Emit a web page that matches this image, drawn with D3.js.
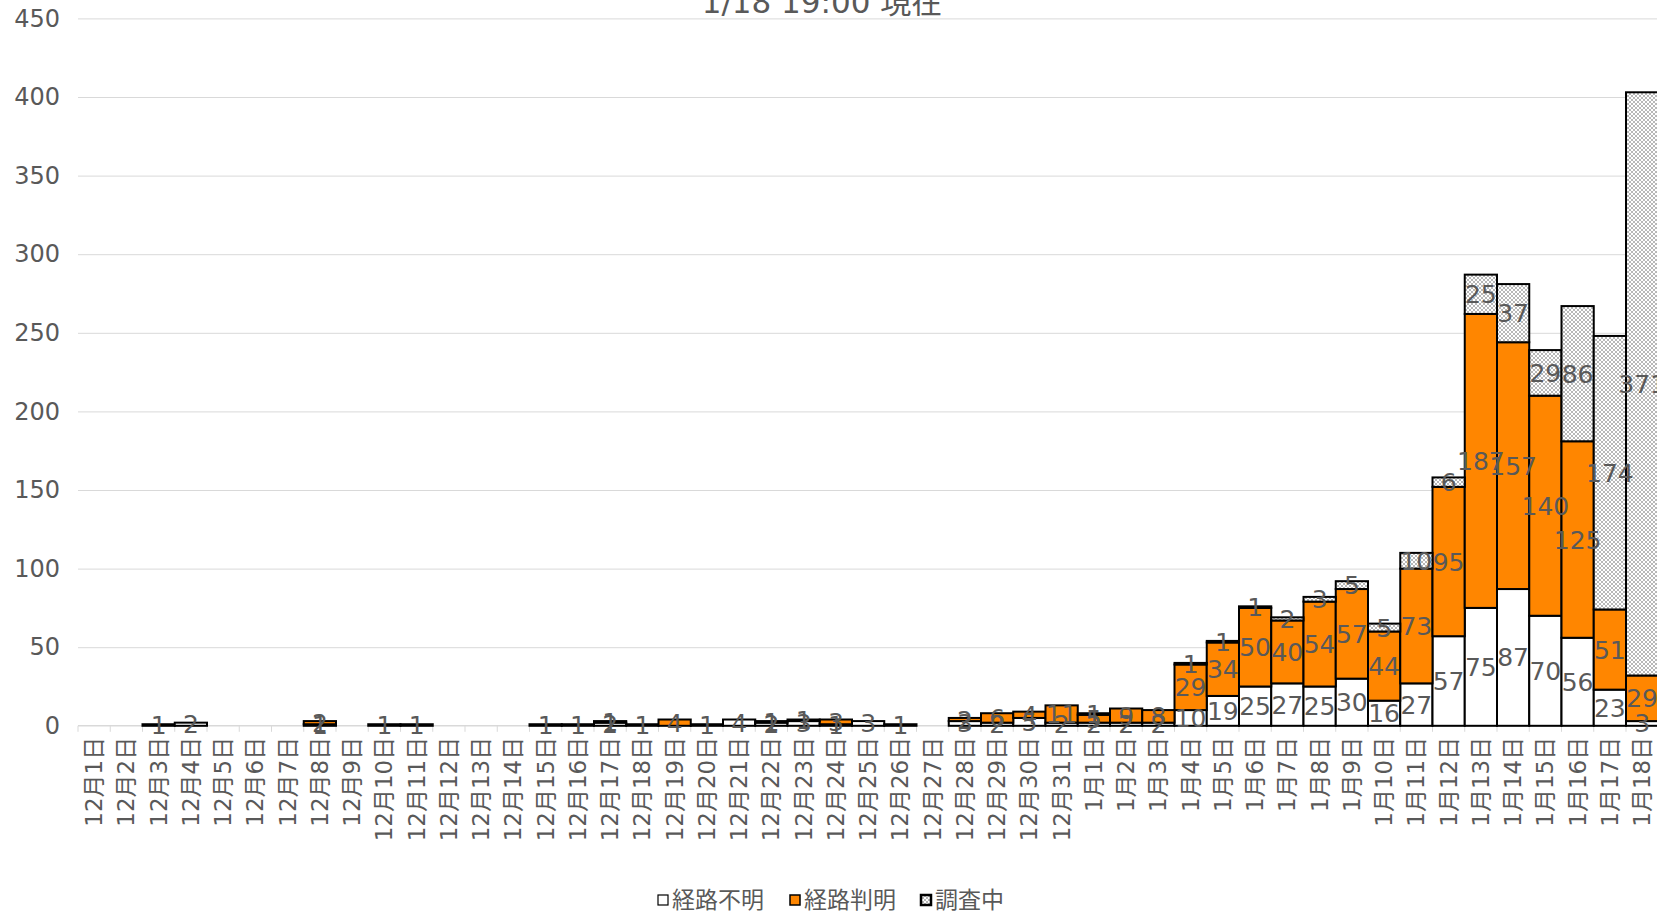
<!DOCTYPE html>
<html>
<head>
<meta charset="utf-8">
<script src="https://cdn.jsdelivr.net/npm/d3@7"></script>
<style>
  html, body { margin: 0; padding: 0; background: #fff; }
  svg { display: block; }
</style>
</head>
<body>
<svg id="chart" width="1657" height="916"></svg>
<script>
const titleText = "1/18 19:00 現在";
const categories = [
  "12月1日","12月2日","12月3日","12月4日","12月5日","12月6日","12月7日","12月8日","12月9日","12月10日",
  "12月11日","12月12日","12月13日","12月14日","12月15日","12月16日","12月17日","12月18日","12月19日","12月20日",
  "12月21日","12月22日","12月23日","12月24日","12月25日","12月26日","12月27日","12月28日","12月29日","12月30日",
  "12月31日","1月1日","1月2日","1月3日","1月4日","1月5日","1月6日","1月7日","1月8日","1月9日",
  "1月10日","1月11日","1月12日","1月13日","1月14日","1月15日","1月16日","1月17日","1月18日"
];
const seriesNames = ["経路不明", "経路判明", "調査中"];
// 経路不明
const routeUnknown = [
  0,0,1,2,0,0,0,1,0,1,
  1,0,0,0,1,1,2,1,0,1,
  4,2,3,1,3,1,0,3,2,5,
  2,2,2,2,10,19,25,27,25,30,
  16,27,57,75,87,70,56,23,3
];
// 経路判明
const routeKnown = [
  0,0,0,0,0,0,0,2,0,0,
  0,0,0,0,0,0,0,0,4,0,
  0,0,0,3,0,0,0,2,6,4,
  11,5,9,8,29,34,50,40,54,57,
  44,73,95,187,157,140,125,51,29
];
// 調査中
const underInvestigation = [
  0,0,0,0,0,0,0,0,0,0,
  0,0,0,0,0,0,1,0,0,0,
  0,1,1,0,0,0,0,0,0,0,
  0,1,0,0,1,1,1,2,3,5,
  5,10,6,25,37,29,86,174,371
];
const yTicks = [0,50,100,150,200,250,300,350,400,450];

const W = 1657, H = 916;
const plot = { left: 78, right: 1658.25, top: 18.4, bottom: 725.8 };
const numFont = "'DejaVu Sans', 'Noto Sans CJK JP', sans-serif";
const cjkFont = "'Noto Sans CJK JP', sans-serif";
const textColor = "#595959";
const orange = "#FF8600";

const svg = d3.select("#chart");

// pattern for 調査中
const defs = svg.append("defs");
const pat = defs.append("pattern")
  .attr("id", "hatch").attr("patternUnits", "userSpaceOnUse")
  .attr("width", 4).attr("height", 4);
pat.append("rect").attr("width", 4).attr("height", 4).attr("fill", "#ffffff");
pat.append("path").attr("d", "M0,0 L4,4 M4,0 L0,4")
  .attr("stroke", "#9a9a9a").attr("stroke-width", 0.7).attr("fill", "none");

const rows = categories.map((c, i) => ({
  cat: c,
  "経路不明": routeUnknown[i],
  "経路判明": routeKnown[i],
  "調査中": underInvestigation[i]
}));

const x = d3.scaleBand().domain(categories).range([plot.left, plot.right]).padding(0);
const y = d3.scaleLinear().domain([0, 450]).range([plot.bottom, plot.top]);

// gridlines
svg.append("g")
  .attr("transform", `translate(${plot.left},0)`)
  .call(d3.axisLeft(y).tickValues(yTicks.filter(t => t > 0)).tickSize(-(plot.right - plot.left)).tickFormat(""))
  .call(g => g.select(".domain").remove())
  .call(g => g.selectAll("line").attr("stroke", "#d9d9d9").attr("stroke-width", 1));

// y axis labels
svg.append("g")
  .attr("transform", `translate(60,0)`)
  .call(d3.axisLeft(y).tickValues(yTicks).tickSize(0).tickPadding(0))
  .call(g => g.select(".domain").remove())
  .call(g => g.selectAll("text")
    .attr("fill", textColor)
    .style("font-family", numFont)
    .style("font-size", "24px"));

// x axis line + boundary ticks
svg.append("line")
  .attr("x1", plot.left).attr("x2", plot.right)
  .attr("y1", y(0)).attr("y2", y(0))
  .attr("stroke", "#d9d9d9").attr("stroke-width", 1.5);
svg.append("g").selectAll("line")
  .data(categories)
  .join("line")
  .attr("x1", d => x(d)).attr("x2", d => x(d))
  .attr("y1", y(0)).attr("y2", y(0) + 6)
  .attr("stroke", "#d9d9d9").attr("stroke-width", 1);

// x labels
svg.append("g")
  .attr("transform", `translate(0,${y(0)})`)
  .call(d3.axisBottom(x).tickSize(0).tickPadding(0))
  .call(g => g.select(".domain").remove())
  .call(g => g.selectAll(".tick text")
    .attr("transform", "rotate(-90)")
    .attr("x", -11).attr("y", 0).attr("dy", "0.35em")
    .attr("text-anchor", "end")
    .attr("fill", textColor)
    .style("font-family", numFont)
    .style("font-size", "23px"));

// stacked bars
const stack = d3.stack().keys(seriesNames);
const stacked = stack(rows);
const fills = { "経路不明": "#ffffff", "経路判明": orange, "調査中": "url(#hatch)" };

const layers = svg.append("g").selectAll("g")
  .data(stacked).join("g")
  .attr("fill", d => fills[d.key]);
layers.selectAll("rect")
  .data(d => d.filter(s => s[1] - s[0] > 0))
  .join("rect")
  .attr("x", d => x(d.data.cat))
  .attr("width", x.bandwidth())
  .attr("y", d => y(d[1]))
  .attr("height", d => y(d[0]) - y(d[1]))
  .attr("stroke", "#000").attr("stroke-width", 2);

// labels
const labelG = svg.append("g");
stacked.forEach(layer => {
  labelG.selectAll(null)
    .data(layer.filter(s => s[1] - s[0] > 0))
    .join("text")
    .attr("x", d => x(d.data.cat) + x.bandwidth() / 2)
    .attr("y", d => (y(d[0]) + y(d[1])) / 2)
    .attr("dy", "0.36em")
    .attr("text-anchor", "middle")
    .attr("fill", textColor)
    .style("font-family", numFont)
    .style("font-size", "25px")
    .text(d => d[1] - d[0]);
});

// title
svg.append("text")
  .attr("x", 822).attr("y", 12.7)
  .attr("text-anchor", "middle")
  .attr("fill", textColor)
  .style("font-family", numFont)
  .style("font-size", "31px")
  .text(titleText);

// legend
const legendItems = [
  { name: seriesNames[0], x: 658, fill: "#ffffff", sw: 1.2 },
  { name: seriesNames[1], x: 790, fill: orange, sw: 1.5 },
  { name: seriesNames[2], x: 921, fill: "url(#hatch)", sw: 2.5 }
];
const lg = svg.append("g").selectAll("g").data(legendItems).join("g")
  .attr("transform", d => `translate(${d.x},900)`);
lg.append("rect")
  .attr("x", 0).attr("y", -5).attr("width", 10).attr("height", 10)
  .attr("fill", d => d.fill).attr("stroke", "#000").attr("stroke-width", d => d.sw);
lg.append("text")
  .attr("x", 14).attr("y", 0).attr("dy", "0.36em")
  .attr("fill", textColor)
  .style("font-family", cjkFont)
  .style("font-size", "23px")
  .text(d => d.name);
</script>
</body>
</html>
